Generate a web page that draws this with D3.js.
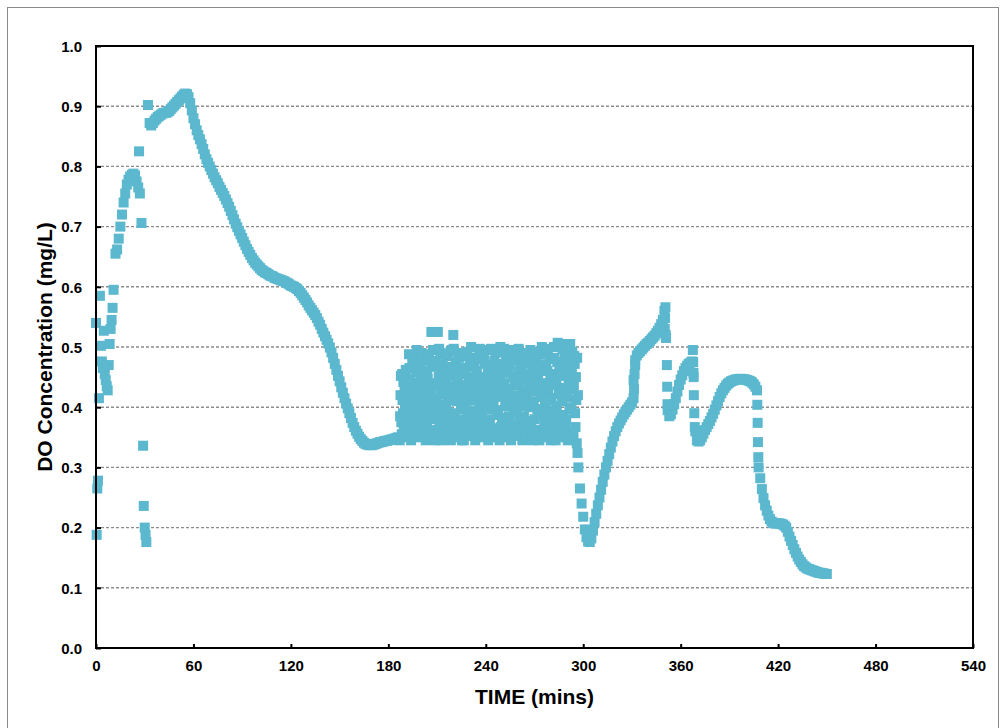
<!DOCTYPE html>
<html><head><meta charset="utf-8">
<script src="https://cdn.jsdelivr.net/npm/d3@7/dist/d3.min.js"></script>
<style>body{margin:0;background:#fff}text{font-family:"Liberation Sans",Arial,sans-serif;font-weight:bold;fill:#000}</style>
</head><body><svg id="c" width="1005" height="728"></svg>
<script>
const xTicks = [0, 60, 120, 180, 240, 300, 360, 420, 480, 540];
const yTicks = [0.0, 0.1, 0.2, 0.3, 0.4, 0.5, 0.6, 0.7, 0.8, 0.9, 1.0];
const xTitle = "TIME (mins)";
const yTitle = "DO Concentration (mg/L)";

// early irregular readings (0-31 min)
const earlyTime = [0, 0.4, 0.8, 1.2, 1.8, 2.4, 3, 3.6, 4.2, 4.8, 5.4, 6, 6.6, 7.2, 7.8, 8.4, 9, 9.6, 10.2, 10.8,
  12, 13, 14, 15, 16, 17, 18, 19, 20, 21, 22, 23, 24, 25, 26, 26.5, 27, 28, 29, 29.4, 30, 30.5, 31];
const earlyDO = [0.540, 0.188, 0.265, 0.278, 0.415, 0.585, 0.502, 0.476, 0.465, 0.527, 0.455, 0.445, 0.435, 0.428, 0.470, 0.505, 0.530, 0.545, 0.565, 0.595,
  0.655, 0.662, 0.680, 0.700, 0.720, 0.740, 0.755, 0.770, 0.778, 0.783, 0.786, 0.788, 0.785, 0.775, 0.765, 0.825, 0.755, 0.706, 0.336, 0.236, 0.200, 0.188, 0.176];

// 32-186 min, one reading per minute
const mainStart = 32, mainStep = 1;
const mainDO = [0.902, 0.872, 0.868, 0.872, 0.876, 0.879, 0.882, 0.884, 0.886, 0.888,
  0.889, 0.889, 0.890, 0.892, 0.895, 0.898, 0.901, 0.904, 0.907, 0.910,
  0.913, 0.916, 0.919, 0.921, 0.920, 0.915, 0.905, 0.893, 0.880, 0.870,
  0.860, 0.852, 0.845, 0.837, 0.829, 0.820, 0.812, 0.806, 0.800, 0.794,
  0.788, 0.782, 0.777, 0.772, 0.766, 0.761, 0.756, 0.751, 0.745, 0.739,
  0.733, 0.726, 0.719, 0.712, 0.705, 0.699, 0.693, 0.687, 0.681, 0.675,
  0.669, 0.663, 0.658, 0.653, 0.648, 0.644, 0.640, 0.637, 0.634, 0.631,
  0.628, 0.626, 0.624, 0.623, 0.621, 0.619, 0.618, 0.617, 0.615, 0.614,
  0.613, 0.612, 0.611, 0.610, 0.609, 0.607, 0.606, 0.604, 0.602, 0.601,
  0.600, 0.598, 0.596, 0.593, 0.590, 0.586, 0.582, 0.578, 0.574, 0.569,
  0.565, 0.561, 0.557, 0.553, 0.548, 0.542, 0.537, 0.530, 0.524, 0.518,
  0.512, 0.506, 0.499, 0.491, 0.482, 0.472, 0.462, 0.452, 0.443, 0.433,
  0.424, 0.415, 0.406, 0.398, 0.390, 0.382, 0.374, 0.367, 0.361, 0.356,
  0.351, 0.347, 0.344, 0.341, 0.339, 0.338, 0.337, 0.337, 0.337, 0.338,
  0.339, 0.340, 0.341, 0.342, 0.342, 0.343, 0.344, 0.344, 0.345, 0.346,
  0.346, 0.347, 0.348, 0.349, 0.350];

// 187-296.5 min, fluctuating readings every half minute (two interleaved sets)
const noisyStartA = 187, noisyStartB = 187.25, noisyStep = 0.5;
const noisyDOA = [
  0.345, 0.420, 0.375, 0.455, 0.390, 0.360, 0.435, 0.405, 0.350, 0.445, 0.380,
  0.360, 0.465, 0.390, 0.345, 0.425, 0.375, 0.480, 0.405, 0.355, 0.440, 0.495,
  0.350, 0.420, 0.380, 0.470, 0.395, 0.490, 0.365, 0.435, 0.410, 0.455, 0.345,
  0.375, 0.460, 0.390, 0.480, 0.355, 0.425, 0.525, 0.405, 0.495, 0.440, 0.360,
  0.345, 0.415, 0.380, 0.525, 0.450, 0.365, 0.490, 0.430, 0.395, 0.470, 0.350,
  0.370, 0.445, 0.405, 0.485, 0.360, 0.420, 0.385, 0.460, 0.345, 0.495, 0.435,
  0.520, 0.390, 0.355, 0.475, 0.410, 0.440, 0.370, 0.455, 0.350, 0.425, 0.490,
  0.380, 0.465, 0.345, 0.405, 0.485, 0.360, 0.430, 0.395, 0.450, 0.370, 0.415,
  0.500, 0.355, 0.440, 0.385, 0.475, 0.345, 0.420, 0.460, 0.375, 0.405, 0.490,
  0.365, 0.450, 0.390, 0.435, 0.350, 0.480, 0.410, 0.370, 0.495, 0.425, 0.345,
  0.460, 0.380, 0.415, 0.355, 0.470, 0.400, 0.440, 0.350, 0.490, 0.430, 0.365,
  0.395, 0.455, 0.345, 0.500, 0.420, 0.375, 0.465, 0.360, 0.440, 0.410, 0.485,
  0.350, 0.430, 0.385, 0.470, 0.405, 0.345, 0.495, 0.370, 0.450, 0.420, 0.360,
  0.480, 0.395, 0.440, 0.355, 0.460, 0.410, 0.375, 0.490, 0.345, 0.430, 0.385,
  0.455, 0.350, 0.420, 0.475, 0.365, 0.440, 0.400, 0.495, 0.370, 0.345, 0.465,
  0.410, 0.380, 0.485, 0.355, 0.430, 0.450, 0.390, 0.345, 0.470, 0.420, 0.500,
  0.360, 0.440, 0.375, 0.405, 0.490, 0.350, 0.460, 0.425, 0.385, 0.480, 0.345,
  0.415, 0.455, 0.370, 0.500, 0.395, 0.345, 0.440, 0.475, 0.360, 0.430, 0.385,
  0.470, 0.350, 0.410, 0.455, 0.365, 0.490, 0.425, 0.380, 0.505, 0.345, 0.445,
  0.400, 0.505, 0.360, 0.465, 0.430, 0.350, 0.485, 0.390, 0.450, 0.340, 0.324];
const noisyDOB = [
  0.385, 0.452, 0.355, 0.412, 0.442, 0.367, 0.397, 0.462, 0.382, 0.427, 0.352,
  0.488, 0.447, 0.362, 0.412, 0.472, 0.382, 0.432, 0.352, 0.397, 0.458, 0.367,
  0.352, 0.462, 0.417, 0.442, 0.372, 0.483, 0.402, 0.477, 0.387, 0.427, 0.357,
  0.367, 0.447, 0.488, 0.412, 0.347, 0.432, 0.362, 0.472, 0.397, 0.467, 0.382,
  0.357, 0.477, 0.402, 0.437, 0.497, 0.372, 0.457, 0.345, 0.387, 0.422, 0.352,
  0.442, 0.488, 0.352, 0.467, 0.392, 0.427, 0.367, 0.492, 0.412, 0.452, 0.377,
  0.497, 0.432, 0.357, 0.462, 0.377, 0.447, 0.417, 0.482, 0.362, 0.397, 0.345,
  0.422, 0.377, 0.457, 0.402, 0.437, 0.367, 0.492, 0.412, 0.352, 0.472, 0.387,
  0.482, 0.412, 0.382, 0.467, 0.427, 0.352, 0.482, 0.392, 0.447, 0.362, 0.497,
  0.352, 0.432, 0.488, 0.377, 0.417, 0.472, 0.357, 0.442, 0.397, 0.457, 0.372,
  0.372, 0.437, 0.497, 0.357, 0.447, 0.407, 0.477, 0.362, 0.422, 0.387, 0.467,
  0.492, 0.417, 0.447, 0.367, 0.472, 0.382, 0.427, 0.497, 0.352, 0.462, 0.402,
  0.367, 0.427, 0.457, 0.377, 0.488, 0.352, 0.412, 0.477, 0.392, 0.437, 0.357,
  0.392, 0.437, 0.352, 0.497, 0.382, 0.417, 0.467, 0.362, 0.447, 0.402, 0.487,
  0.472, 0.352, 0.377, 0.488, 0.407, 0.447, 0.372, 0.482, 0.427, 0.357, 0.462,
  0.492, 0.427, 0.477, 0.352, 0.397, 0.457, 0.437, 0.362, 0.467, 0.387, 0.417,
  0.352, 0.487, 0.392, 0.432, 0.467, 0.357, 0.497, 0.412, 0.382, 0.447, 0.367,
  0.392, 0.437, 0.367, 0.482, 0.447, 0.352, 0.402, 0.507, 0.377, 0.462, 0.422,
  0.452, 0.352, 0.497, 0.387, 0.432, 0.482, 0.372, 0.462, 0.417, 0.357, 0.477,
  0.347, 0.457, 0.397, 0.492, 0.357, 0.437, 0.472, 0.367, 0.412, 0.482, 0.420];

// 297-450 min, one reading per minute
const lateStart = 297, lateStep = 1;
const lateDO = [0.300, 0.265, 0.240, 0.218, 0.197, 0.184, 0.177, 0.176, 0.182, 0.195,
  0.209, 0.223, 0.237, 0.250, 0.263, 0.276, 0.288, 0.300, 0.311, 0.322,
  0.333, 0.343, 0.352, 0.360, 0.367, 0.373, 0.378, 0.383, 0.388, 0.392,
  0.396, 0.400, 0.404, 0.408, 0.445, 0.478, 0.486, 0.490, 0.493, 0.496,
  0.499, 0.502, 0.505, 0.507, 0.510, 0.513, 0.516, 0.519, 0.523, 0.527,
  0.532, 0.538, 0.545, 0.560, 0.515, 0.395, 0.385, 0.388, 0.396, 0.405,
  0.415, 0.426, 0.437, 0.446, 0.453, 0.460, 0.465, 0.469, 0.472, 0.474,
  0.476, 0.450, 0.360, 0.345, 0.343, 0.345, 0.350, 0.356, 0.362, 0.367,
  0.372, 0.377, 0.383, 0.389, 0.396, 0.403, 0.410, 0.417, 0.423, 0.428,
  0.432, 0.436, 0.439, 0.441, 0.443, 0.444, 0.445, 0.446, 0.446, 0.447,
  0.447, 0.447, 0.446, 0.446, 0.445, 0.444, 0.443, 0.441, 0.438, 0.434,
  0.428, 0.300, 0.282, 0.264, 0.249, 0.237, 0.228, 0.220, 0.214, 0.210,
  0.208, 0.207, 0.207, 0.207, 0.207, 0.206, 0.205, 0.203, 0.200, 0.193,
  0.185, 0.178, 0.171, 0.164, 0.158, 0.152, 0.147, 0.143, 0.139, 0.136,
  0.134, 0.132, 0.131, 0.130, 0.129, 0.128, 0.127, 0.126, 0.125, 0.125,
  0.124, 0.124, 0.123, 0.123];

// rapid step readings
const stepTime = [331, 331.3, 331.6, 332, 350.2, 350.4, 350.6, 350.8, 351.5, 351.7, 351.9,
  367.5, 367.7, 367.9, 368.1, 368.4, 368.7, 407.2, 407.4, 407.6, 407.8];
const stepDO = [0.415, 0.430, 0.455, 0.470, 0.530, 0.548, 0.566, 0.520, 0.470, 0.434, 0.405,
  0.495, 0.475, 0.457, 0.420, 0.390, 0.367, 0.404, 0.374, 0.342, 0.317];

const points = [];
earlyTime.forEach((t, i) => points.push([t, earlyDO[i]]));
mainDO.forEach((v, i) => points.push([mainStart + i * mainStep, v]));
noisyDOA.forEach((v, i) => points.push([noisyStartA + i * noisyStep, v]));
noisyDOB.forEach((v, i) => points.push([noisyStartB + i * noisyStep, v]));
lateDO.forEach((v, i) => points.push([lateStart + i * lateStep, v]));
stepTime.forEach((t, i) => points.push([t, stepDO[i]]));

const svg = d3.select("#c");
const L = 96, R = 973, T = 46, B = 648;
const x = d3.scaleLinear().domain([0, 540]).range([L, R]);
const y = d3.scaleLinear().domain([0, 1]).range([B, T]);

// outer frame
svg.append("rect").attr("x", 7.5).attr("y", 7.5).attr("width", 991).attr("height", 740)
  .attr("fill", "none").attr("stroke", "#8a8a8a").attr("stroke-width", 1);

// grid
svg.append("g").selectAll("line").data(yTicks.filter(d => d > 0 && d < 1)).join("line")
  .attr("x1", L).attr("x2", R).attr("y1", d => y(d)).attr("y2", d => y(d))
  .attr("stroke", "#8c8c8c").attr("stroke-width", 1.4).attr("stroke-dasharray", "3,2");

// axes
const xAxis = d3.axisBottom(x).tickValues(xTicks).tickSizeInner(-4).tickSizeOuter(0).tickPadding(12).tickFormat(d3.format("d"));
const yAxis = d3.axisLeft(y).tickValues(yTicks).tickSizeInner(-5).tickSizeOuter(0).tickPadding(14).tickFormat(d3.format(".1f"));
const gx = svg.append("g").attr("transform", `translate(0,${B})`).call(xAxis);
const gy = svg.append("g").attr("transform", `translate(${L},0)`).call(yAxis);
[gx, gy].forEach(g => {
  g.select(".domain").remove();
  g.selectAll(".tick line").attr("stroke", "#000").attr("stroke-width", 2);
  g.selectAll(".tick text").style("font-size", "15px").style("font-family", "'Liberation Sans', Arial, sans-serif").style("font-weight", "bold").attr("fill", "#000");
});
gy.selectAll(".tick text").attr("dy", "0.35em");

// markers
svg.append("g").selectAll("rect").data(points).join("rect")
  .attr("x", d => x(d[0]) - 5).attr("y", d => y(d[1]) - 5)
  .attr("width", 10).attr("height", 10).attr("fill", "#5bb8ce");

// plot frame
svg.append("rect").attr("x", L).attr("y", T).attr("width", R - L).attr("height", B - T)
  .attr("fill", "none").attr("stroke", "#000").attr("stroke-width", 2);

// titles
svg.append("text").attr("x", (L + R) / 2).attr("y", 704).attr("text-anchor", "middle")
  .style("font-size", "21px").text(xTitle);
svg.append("text").attr("transform", `translate(52,${(T + B) / 2}) rotate(-90)`).attr("text-anchor", "middle")
  .style("font-size", "21px").text(yTitle);
</script></body></html>
